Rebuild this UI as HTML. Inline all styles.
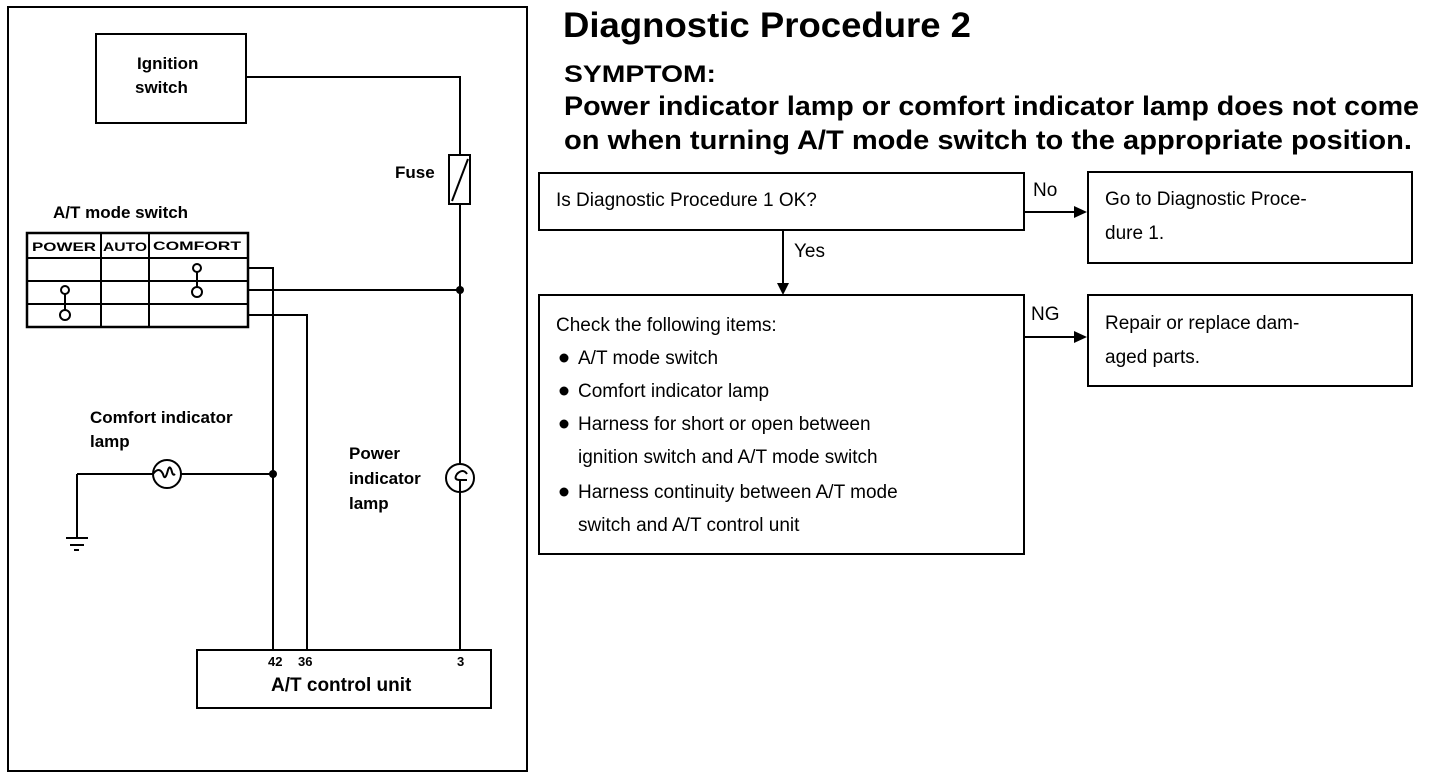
<!DOCTYPE html>
<html><head><meta charset="utf-8"><style>
html,body{margin:0;padding:0;background:#fff;}
svg{display:block;}
text{font-family:"Liberation Sans",sans-serif;fill:#000;}
.b{font-weight:bold;}
</style></head><body>
<svg width="1440" height="778" viewBox="0 0 1440 778" xmlns="http://www.w3.org/2000/svg">
<g fill="none" stroke="#000" stroke-width="2">
<rect x="8" y="7" width="519" height="764"/>
<rect x="96" y="34" width="150" height="89"/>
<polyline points="246,77 460,77 460,155"/>
<rect x="449" y="155" width="21" height="49"/>
<line x1="452" y1="201" x2="468" y2="159"/>
<line x1="460" y1="204" x2="460" y2="650"/>
<!-- table -->
<rect x="27" y="233" width="221" height="94" stroke-width="2.5"/>
<line x1="27" y1="258" x2="248" y2="258"/>
<line x1="27" y1="281" x2="248" y2="281"/>
<line x1="27" y1="304" x2="248" y2="304"/>
<line x1="101" y1="233" x2="101" y2="327"/>
<line x1="149" y1="233" x2="149" y2="327"/>
<polyline points="248,268 273,268 273,650"/>
<line x1="248" y1="290" x2="460" y2="290"/>
<polyline points="248,315 307,315 307,650"/>
<!-- contacts -->
<line x1="197" y1="268" x2="197" y2="292"/>
<circle cx="197" cy="268" r="4" fill="#fff"/>
<circle cx="197" cy="292" r="5" fill="#fff"/>
<line x1="65" y1="290" x2="65" y2="315"/>
<circle cx="65" cy="290" r="4" fill="#fff"/>
<circle cx="65" cy="315" r="5" fill="#fff"/>
<!-- comfort lamp -->
<line x1="77" y1="474" x2="153" y2="474"/>
<line x1="181" y1="474" x2="273" y2="474"/>
<line x1="77" y1="474" x2="77" y2="538"/>
<circle cx="167" cy="474" r="14"/>
<path d="M153,474 q6,-8 10,0 q2,8 5,-4 q2,-6 4,2 q1,4 3,2"/>
<line x1="66" y1="538" x2="88" y2="538"/>
<line x1="70" y1="545" x2="84" y2="545"/>
<line x1="74" y1="550" x2="79" y2="550"/>
<!-- power lamp -->
<circle cx="460" cy="478" r="14" fill="#fff"/>
<path d="M467,474 q-4,-6 -10,0 q-4,6 3,6 l7,0"/>
<line x1="460" y1="480" x2="460" y2="492"/>
<!-- control unit -->
<rect x="197" y="650" width="294" height="58"/>
<!-- flow boxes -->
<rect x="539" y="173" width="485" height="57"/>
<rect x="1088" y="172" width="324" height="91"/>
<rect x="539" y="295" width="485" height="259"/>
<rect x="1088" y="295" width="324" height="91"/>
<line x1="1024" y1="212" x2="1074" y2="212"/>
<line x1="1024" y1="337" x2="1074" y2="337"/>
<line x1="783" y1="230" x2="783" y2="284"/>
</g>
<g fill="#000">
<circle cx="460" cy="290" r="4"/>
<circle cx="273" cy="474" r="4"/>
<polygon points="1074,206 1087,212 1074,218"/>
<polygon points="1074,331 1087,337 1074,343"/>
<polygon points="777,283 783,295 789,283"/>
<circle cx="564" cy="358" r="4.5"/>
<circle cx="564" cy="391" r="4.5"/>
<circle cx="564" cy="424" r="4.5"/>
<circle cx="564" cy="492" r="4.5"/>
</g>
<g class="b">
<text x="137" y="69" font-size="17">Ignition</text>
<text x="135" y="93" font-size="17">switch</text>
<text x="395" y="178" font-size="17">Fuse</text>
<text x="53" y="218" font-size="17">A/T mode switch</text>
<text x="32" y="251" font-size="12" textLength="64" lengthAdjust="spacingAndGlyphs">POWER</text>
<text x="103" y="251" font-size="12" textLength="44" lengthAdjust="spacingAndGlyphs">AUTO</text>
<text x="153" y="250" font-size="12" textLength="88" lengthAdjust="spacingAndGlyphs">COMFORT</text>
<text x="90" y="423" font-size="17">Comfort indicator</text>
<text x="90" y="447" font-size="17">lamp</text>
<text x="349" y="459" font-size="17">Power</text>
<text x="349" y="484" font-size="17">indicator</text>
<text x="349" y="509" font-size="17">lamp</text>
<text x="268" y="666" font-size="13">42</text>
<text x="298" y="666" font-size="13">36</text>
<text x="457" y="666" font-size="13">3</text>
<text x="271" y="691" font-size="19">A/T control unit</text>
<text x="563" y="37" font-size="35" textLength="408" lengthAdjust="spacingAndGlyphs">Diagnostic Procedure 2</text>
<text x="564" y="82" font-size="24" textLength="152" lengthAdjust="spacingAndGlyphs">SYMPTOM:</text>
<text x="564" y="115" font-size="27" textLength="855" lengthAdjust="spacingAndGlyphs">Power indicator lamp or comfort indicator lamp does not come</text>
<text x="564" y="149" font-size="27" textLength="848" lengthAdjust="spacingAndGlyphs">on when turning A/T mode switch to the appropriate position.</text>
</g>
<g font-size="19">
<text x="556" y="206">Is Diagnostic Procedure 1 OK?</text>
<text x="1033" y="196">No</text>
<text x="794" y="257">Yes</text>
<text x="1031" y="320">NG</text>
<text x="1105" y="205">Go to Diagnostic Proce-</text>
<text x="1105" y="239">dure 1.</text>
<text x="1105" y="329">Repair or replace dam-</text>
<text x="1105" y="363">aged parts.</text>
<text x="556" y="331">Check the following items:</text>
<text x="578" y="364">A/T mode switch</text>
<text x="578" y="397">Comfort indicator lamp</text>
<text x="578" y="430">Harness for short or open between</text>
<text x="578" y="463">ignition switch and A/T mode switch</text>
<text x="578" y="498">Harness continuity between A/T mode</text>
<text x="578" y="531">switch and A/T control unit</text>
</g>
</svg>
</body></html>
